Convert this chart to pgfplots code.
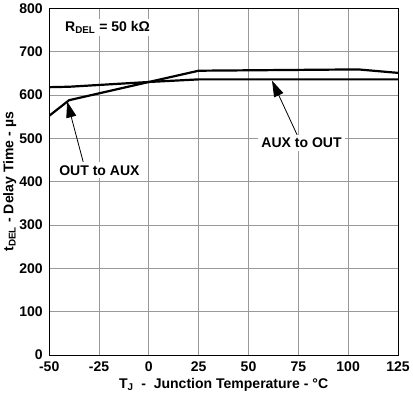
\documentclass[border=0pt]{standalone}
\usepackage{pgfplots}
\pgfplotsset{compat=1.18}
\usepackage{fontspec}
\setmainfont{Liberation Sans}
\usetikzlibrary{arrows.meta}
\newcommand{\ff}{\fontsize{14}{16}\selectfont\bfseries}
\begin{document}
\begin{tikzpicture}
\begin{axis}[
  scale only axis,
  width=347bp, height=345bp,
  xmin=-50, xmax=125, ymin=0, ymax=800,
  xtick={-50,-25,...,125}, ytick={0,100,...,800},
  grid=major,
  major grid style={gray!80, line width=0.8pt},
  axis line style={black, line width=0.9pt},
  tick style={draw=none},
  /pgf/number format/assume math mode=true,
  ticklabel style={font=\ff},
  xticklabel={\ifdim\tick pt<0pt -\pgfmathparse{abs(\tick)}\pgfmathprintnumber[assume math mode=true]{\pgfmathresult}\else\pgfmathprintnumber[assume math mode=true]{\tick}\fi},
  xticklabel style={yshift=-3pt},
  yticklabel style={xshift=-3pt},
  label style={font=\ff},
  xlabel={T\textsubscript{J}\ \ -\ \ Junction Temperature - °C},
  ylabel={t\textsubscript{DEL} - Delay Time - µs},
  xlabel style={yshift=0pt},
  ylabel style={yshift=-4pt},
]
\addplot[black, line width=2.2pt] coordinates {
 (-50,552) (-40,588) (0,630) (25,656) (105,659) (125,651)};
\addplot[black, line width=2.2pt] coordinates {
 (-50,618) (-40,619) (0,630) (25,636) (125,636)};
\node[fill=white, inner sep=2pt, font=\ff] at (axis cs:-20.7,756) {R\textsubscript{DEL} = 50 kΩ};
\draw[line width=0.8pt, -{Triangle[length=16pt,width=10pt]}] (axis cs:-32.8,443) -- (axis cs:-41,585);
\draw[line width=0.8pt, -{Triangle[length=16pt,width=10pt]}] (axis cs:74.4,508) -- (axis cs:61.8,633);
\node[fill=white, inner sep=3pt, font=\ff] at (axis cs:-24.8,426) {OUT to AUX};
\node[fill=white, inner sep=3pt, font=\ff] at (axis cs:76.6,489) {AUX to OUT};
\end{axis}
\end{tikzpicture}
\end{document}
